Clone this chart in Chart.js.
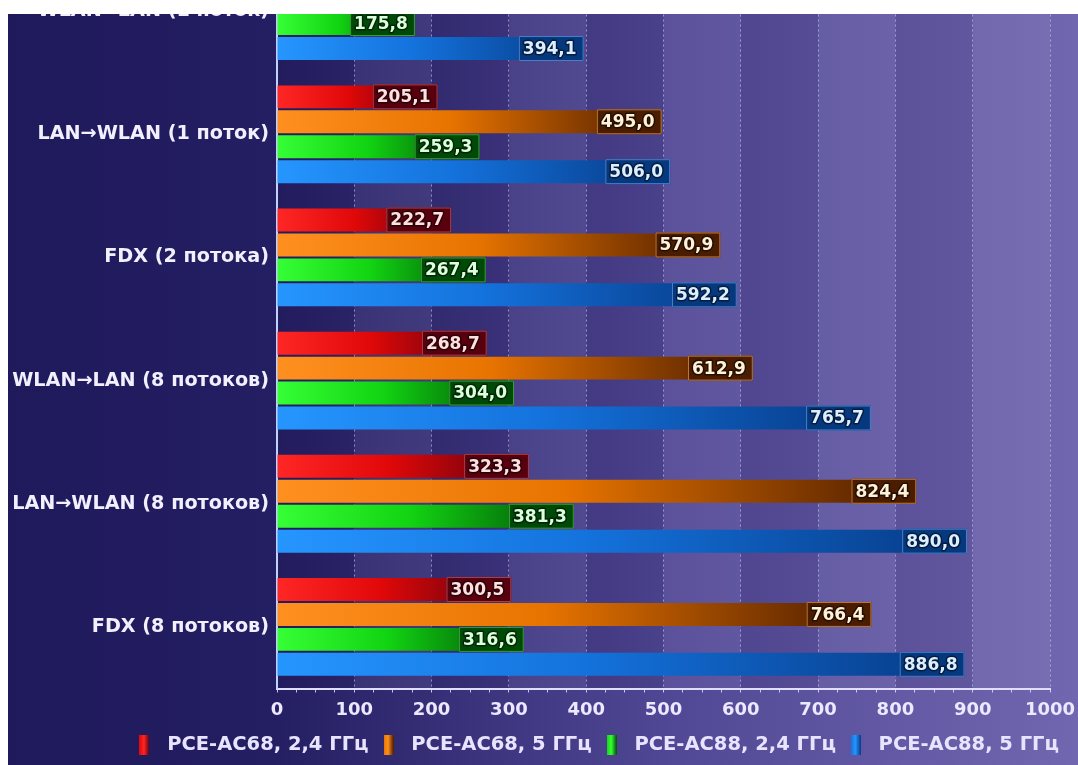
<!DOCTYPE html>
<html><head><meta charset="utf-8">
<script src="https://cdn.jsdelivr.net/npm/chart.js@4.4.1/dist/chart.umd.min.js"></script>
<style>
html,body{margin:0;padding:0;background:#fff;width:1078px;height:765px;overflow:hidden;}
#clip{position:absolute;left:8px;top:14px;width:1070px;height:751px;overflow:hidden;}
#box{position:absolute;left:0;top:-84px;width:1070px;height:835px;}
</style></head><body>
<div id="clip"><div id="box"><canvas id="c"></canvas></div></div>
<script>
// ---- data ----
const categories = ['WLAN→LAN (1 поток)', 'LAN→WLAN (1 поток)', 'FDX (2 потока)', 'WLAN→LAN (8 потоков)', 'LAN→WLAN (8 потоков)', 'FDX (8 потоков)'];
const seriesNames = ['PCE-AC68, 2,4 ГГц', 'PCE-AC68, 5 ГГц', 'PCE-AC88, 2,4 ГГц', 'PCE-AC88, 5 ГГц'];
const ac68_24 = [null, 205.1, 222.7, 268.7, 323.3, 300.5];
const ac68_5  = [null, 495.0, 570.9, 612.9, 824.4, 766.4];
const ac88_24 = [175.8, 259.3, 267.4, 304.0, 381.3, 316.6];
const ac88_5  = [394.1, 506.0, 592.2, 765.7, 890.0, 886.8];
const seriesValues = [ac68_24, ac68_5, ac88_24, ac88_5];
const axisMin = 0, axisMax = 1000, majorStep = 100, minorStep = 25;

// ---- styles ----
const styles = [
  {light:'#ff2626', mid:'#e00808', dark:'#5a0010', text:'#ffe0e0', box:'#58000e', edge:'#a8404c'},
  {light:'#ff9020', mid:'#e87400', dark:'#4c1c00', text:'#fff2da', box:'#4a1c00', edge:'#c07a30'},
  {light:'#36ff36', mid:'#12d412', dark:'#004c08', text:'#dcffdc', box:'#004a08', edge:'#3c9c3c'},
  {light:'#2696ff', mid:'#1472dc', dark:'#063a86', text:'#dceeff', box:'#06387e', edge:'#4a80c8'}
];
Chart.defaults.font.family = "'DejaVu Sans', sans-serif";

function barFill(i){
  return (c) => {
    const chart = c.chart, s = styles[i];
    if (!chart.chartArea || c.type !== 'data' || !c.parsed || c.parsed.x == null) return s.mid;
    const xs = chart.scales.x;
    const x0 = xs.getPixelForValue(0), x1 = xs.getPixelForValue(c.parsed.x);
    if (!isFinite(x1) || x1 - x0 < 1) return s.mid;
    const g = chart.ctx.createLinearGradient(x0, 0, x1, 0);
    g.addColorStop(0, s.light); g.addColorStop(0.45, s.mid); g.addColorStop(1, s.dark);
    return g;
  };
}
function marker(i){
  const cv = document.createElement('canvas');
  cv.width = 10; cv.height = 20;
  const x = cv.getContext('2d'), s = styles[i];
  const g = x.createLinearGradient(0, 0, 10, 0);
  g.addColorStop(0, s.mid); g.addColorStop(0.45, s.light); g.addColorStop(1, s.dark);
  x.fillStyle = g; x.fillRect(0, 0, 10, 20);
  return cv;
}

const bgPlugin = {
  id: 'bg',
  beforeDraw(chart){
    const {ctx, width, height, chartArea: a, scales: {x}} = chart;
    ctx.save();
    const g = ctx.createLinearGradient(0, 0, width, 0);
    g.addColorStop(0, '#1f1a5c'); g.addColorStop(0.25, '#241e62');
    g.addColorStop(0.62, '#514895'); g.addColorStop(1, '#7167b0');
    ctx.fillStyle = g; ctx.fillRect(0, 0, width, height);
    for (let v = axisMin; v < axisMax; v += majorStep){
      const x0 = x.getPixelForValue(v), x1 = x.getPixelForValue(v + majorStep);
      const k = Math.round(v / majorStep);
      ctx.fillStyle = k % 2 ? 'rgba(255,255,255,0.06)' : 'rgba(10,0,40,0.08)';
      ctx.fillRect(x0, a.top, x1 - x0, a.bottom - a.top);
    }
    ctx.restore();
  }
};

const valuePlugin = {
  id: 'vals',
  afterDatasetsDraw(chart){
    const ctx = chart.ctx;
    ctx.save();
    ctx.font = "bold 17px 'DejaVu Sans'";
    ctx.textAlign = 'right'; ctx.textBaseline = 'middle'; ctx.lineJoin = 'round';
    chart.data.datasets.forEach((ds, di) => {
      const meta = chart.getDatasetMeta(di);
      meta.data.forEach((el, j) => {
        const v = ds.data[j];
        if (v == null) return;
        const txt = v.toFixed(1).replace('.', ',');
        const s = styles[di];
        const w = ctx.measureText(txt).width;
        const right = el.x - 5;
        const bx = right - w - 4, bw = el.x + 2 - bx;
        const top = el.y - el.height / 2 - 1, h = el.height + 2;
        ctx.fillStyle = s.box; ctx.fillRect(bx, top, bw, h);
        ctx.strokeStyle = s.edge; ctx.lineWidth = 1; ctx.strokeRect(bx + 0.5, top + 0.5, bw - 1, h - 1);
        ctx.lineWidth = 3; ctx.strokeStyle = 'rgba(0,0,0,0.5)';
        ctx.strokeText(txt, right, el.y + 1);
        ctx.fillStyle = s.text; ctx.fillText(txt, right, el.y + 1);
      });
    });
    ctx.restore();
  }
};

new Chart(document.getElementById('c'), {
  type: 'bar',
  data: {
    labels: categories,
    datasets: seriesValues.map((d, i) => ({
      label: seriesNames[i], data: d, backgroundColor: barFill(i), borderWidth: 0,
      categoryPercentage: 0.81, barPercentage: 0.92
    }))
  },
  options: {
    indexAxis: 'y', responsive: true, maintainAspectRatio: false, animation: false,
    layout: {padding: {top: 16, left: 0, right: 12, bottom: 0}},
    scales: {
      x: {
        min: axisMin, max: axisMax, position: 'bottom',
        ticks: {stepSize: minorStep, maxTicksLimit: 100, autoSkip: false, maxRotation: 0, padding: 7,
          color: '#ebe8ff', font: {size: 18, weight: 'bold'},
          callback: v => (v % majorStep === 0 ? String(v) : '')},
        grid: {
          color: c => (c.tick && c.tick.value % majorStep === 0 && c.tick.value !== 0) ? 'rgba(210,205,250,0.6)' : 'rgba(0,0,0,0)',
          lineWidth: 1, drawTicks: true, tickLength: 4, tickColor: 'rgba(225,222,255,0.85)', tickWidth: 1
        },
        border: {display: true, color: '#e0ddff', width: 2, dash: [2, 3]},
        afterFit: s => { s.height = 40; s.paddingRight = 28; }
      },
      y: {
        ticks: {color: '#f2f0ff', padding: 8, font: {size: 19.2, weight: 'bold'}},
        grid: {display: false, drawTicks: false},
        border: {display: true, color: '#c0d0ff', width: 2},
        afterFit: s => { s.width = 269; }
      }
    },
    plugins: {
      legend: {
        position: 'bottom', align: 'end',
        labels: {
          usePointStyle: true, pointStyleWidth: 26, padding: 7, color: '#e8e4ff',
          font: {size: 19.5, weight: 'bold'},
          generateLabels: chart => seriesNames.map((n, i) => ({
            text: n, fillStyle: styles[i].mid, strokeStyle: 'rgba(0,0,0,0)', lineWidth: 0,
            pointStyle: marker(i), hidden: false, datasetIndex: i, fontColor: '#e8e4ff'
          }))
        }
      },
      tooltip: {enabled: false}
    }
  },
  plugins: [bgPlugin, valuePlugin]
});
</script>
</body></html>
